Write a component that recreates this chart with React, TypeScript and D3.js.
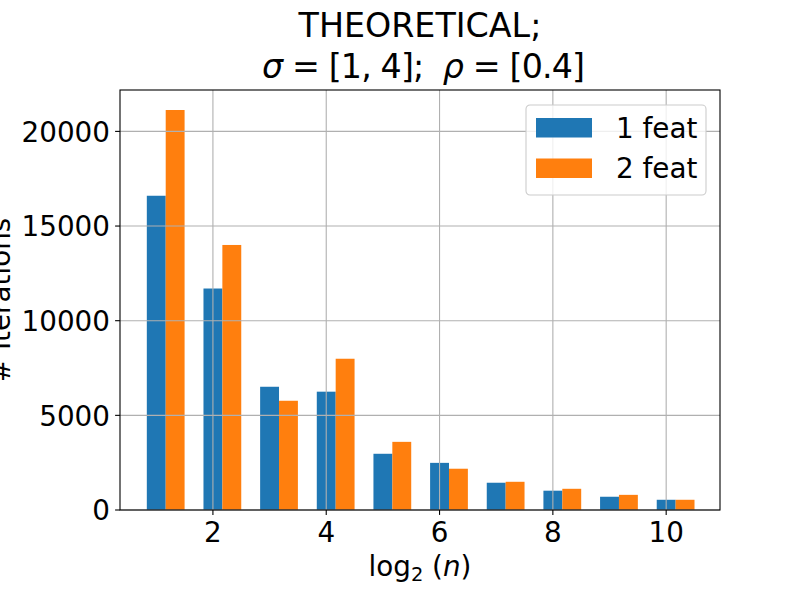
import * as d3 from "d3";

// bar groups sit at integer log2(n)
const positions = [1, 2, 3, 4, 5, 6, 7, 8, 9, 10];
const oneFeat = [16600, 11700, 6510, 6250, 2970, 2490, 1440, 1020, 700, 540];
const twoFeat = [21130, 14000, 5770, 7990, 3600, 2180, 1490, 1120, 800, 540];
const xTicks = [2, 4, 6, 8, 10];
const yTicks = [0, 5000, 10000, 15000, 20000];
const seriesNames = ["1 feat", "2 feat"];

const BLUE = "#1f77b4";
const ORANGE = "#ff7f0e";
const FONT = "DejaVu Sans, sans-serif";

export default function App() {
  const width = 800;
  const height = 600;
  const margin = { top: 90, right: 80, bottom: 90, left: 120 };
  const innerW = width - margin.left - margin.right;
  const innerH = height - margin.top - margin.bottom;
  const barW = 1 / 3;

  const x = d3.scaleLinear().domain([0.36, 10.95]).range([0, innerW]);
  const yMax = (d3.max(twoFeat.concat(oneFeat)) ?? 0) * 1.05;
  const y = d3.scaleLinear().domain([0, yMax]).range([innerH, 0]);
  const bw = x(barW) - x(0);

  const tickFont = 27.8;
  const gridColor = "#b0b0b0";

  return (
    <svg
      width={width}
      height={height}
      style={{ position: "absolute", left: 0, top: 0, background: "#fff" }}
      fontFamily={FONT}
    >
      <rect width={width} height={height} fill="#fff" />
      <g transform={`translate(${margin.left},${margin.top})`}>
        {/* bars */}
        {positions.map((p, i) => (
          <g key={p}>
            <rect
              x={x(p - barW / 2)}
              y={y(oneFeat[i])}
              width={bw}
              height={innerH - y(oneFeat[i])}
              fill={BLUE}
            />
            <rect
              x={x(p + barW / 2)}
              y={y(twoFeat[i])}
              width={bw}
              height={innerH - y(twoFeat[i])}
              fill={ORANGE}
            />
          </g>
        ))}

        {/* grid on top of the bars, as matplotlib does by default */}
        {xTicks.map((t) => (
          <line key={`gx${t}`} x1={x(t)} x2={x(t)} y1={0} y2={innerH} stroke={gridColor} strokeWidth={1.1} />
        ))}
        {yTicks.map((t) => (
          <line key={`gy${t}`} x1={0} x2={innerW} y1={y(t)} y2={y(t)} stroke={gridColor} strokeWidth={1.1} />
        ))}

        {/* spines */}
        <rect x={0} y={0} width={innerW} height={innerH} fill="none" stroke="#000" strokeWidth={1.1} />

        {/* x axis */}
        {xTicks.map((t) => (
          <g key={`tx${t}`} transform={`translate(${x(t)},${innerH})`}>
            <line y1={0} y2={4.9} stroke="#000" strokeWidth={1.1} />
            <text y={32} textAnchor="middle" fontSize={tickFont} fill="#000">
              {t}
            </text>
          </g>
        ))}

        {/* y axis */}
        {yTicks.map((t) => (
          <g key={`ty${t}`} transform={`translate(0,${y(t)})`}>
            <line x1={0} x2={-4.9} stroke="#000" strokeWidth={1.1} />
            <text x={-10} y={10.3} textAnchor="end" fontSize={tickFont} fill="#000">
              {t}
            </text>
          </g>
        ))}
      </g>

      {/* title */}
      <text x={margin.left + innerW / 2} y={36.5} textAnchor="middle" fontSize={33.3} fill="#000">
        THEORETICAL;
      </text>
      <text
        x={423.5}
        y={77.5}
        textAnchor="middle"
        fontSize={33.3}
        fill="#000"
        textLength={323}
        lengthAdjust="spacing"
        style={{ whiteSpace: "pre" }}
      >
        <tspan fontStyle="italic">σ</tspan>
        <tspan>{" = [1, 4];  "}</tspan>
        <tspan fontStyle="italic">ρ</tspan>
        <tspan>{" = [0.4]"}</tspan>
      </text>

      {/* axis labels */}
      <text x={margin.left + innerW / 2} y={576} textAnchor="middle" fontSize={tickFont} fill="#000">
        <tspan>log</tspan>
        <tspan fontSize={tickFont * 0.7} dy={5}>2</tspan>
        <tspan dy={-5} style={{ whiteSpace: "pre" }}>{" ("}</tspan>
        <tspan fontStyle="italic">n</tspan>
        <tspan>)</tspan>
      </text>
      <text
        transform={`translate(9.5,${margin.top + innerH / 2}) rotate(-90)`}
        textAnchor="middle"
        fontSize={tickFont}
        fill="#000"
      >
        # Iterations
      </text>

      {/* legend */}
      <g transform="translate(526,105)">
        <rect
          x={0}
          y={0}
          width={180}
          height={90}
          rx={4}
          fill="#fff"
          fillOpacity={0.8}
          stroke="#cccccc"
          strokeWidth={1.1}
        />
        {seriesNames.map((name, i) => (
          <g key={name} transform={`translate(0,${i * 40.5})`}>
            <rect x={10} y={13} width={56} height={19.5} fill={i === 0 ? BLUE : ORANGE} />
            <text x={90} y={32.5} fontSize={tickFont} fill="#000">
              {name}
            </text>
          </g>
        ))}
      </g>
    </svg>
  );
}
